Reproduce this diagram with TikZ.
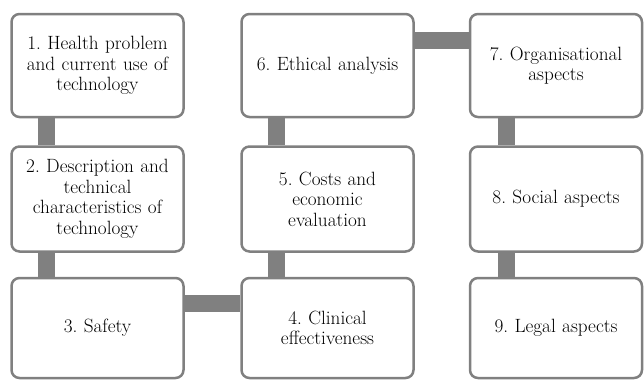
\documentclass[tikz,border=0pt]{standalone}
\usepackage{fontspec}
\frenchspacing
\definecolor{boxgray}{RGB}{128,128,128}
\tikzset{
  stepbox/.style={draw=boxgray, line width=2.5pt, rounded corners=8pt, fill=white,
    minimum width=172pt, text width=166pt, align=center, inner sep=0pt,
    font=\fontsize{19.2}{20.5}\selectfont},
  link/.style={draw=boxgray, line width=17pt}
}
\begin{document}
\begin{tikzpicture}[x=1pt,y=-1pt]
\useasboundingbox (0,0) rectangle (644,380);
% row 1
\node[stepbox, minimum height=103pt] (n1) at (97.5,65.5) {1. Health problem\\and current use of\\technology};
\node[stepbox, minimum height=103pt] (n6) at (327.5,65.5) {6. Ethical analysis};
\node[stepbox, minimum height=103pt] (n7) at (556,65.5) {7. Organisational\\aspects};
% row 2
\node[stepbox, minimum height=105pt] (n2) at (97.5,199) {2. Description and\\technical\\characteristics of\\technology};
\node[stepbox, minimum height=105pt] (n5) at (327.5,199) {5. Costs and\\economic\\evaluation};
\node[stepbox, minimum height=105pt] (n8) at (556,199) {8. Social aspects};
% row 3
\node[stepbox, minimum height=100pt] (n3) at (97.5,328) {3. Safety};
\node[stepbox, minimum height=100pt] (n4) at (327.5,328) {4. Clinical\\effectiveness};
\node[stepbox, minimum height=100pt] (n9) at (556,328) {9. Legal aspects};
% connectors
\draw[link] ([xshift=-51pt]n1.south) -- ([xshift=-51pt]n2.north);
\draw[link] ([xshift=-51pt]n2.south) -- ([xshift=-51pt]n3.north);
\draw[link] ([yshift=24.5pt]n3.east) -- ([yshift=24.5pt]n4.west);
\draw[link] ([xshift=-51pt]n4.north) -- ([xshift=-51pt]n5.south);
\draw[link] ([xshift=-51pt]n5.north) -- ([xshift=-51pt]n6.south);
\draw[link] ([yshift=25.5pt]n6.east) -- ([yshift=25.5pt]n7.west);
\draw[link] ([xshift=-50pt]n7.south) -- ([xshift=-50pt]n8.north);
\draw[link] ([xshift=-50pt]n8.south) -- ([xshift=-50pt]n9.north);
\end{tikzpicture}
\end{document}
